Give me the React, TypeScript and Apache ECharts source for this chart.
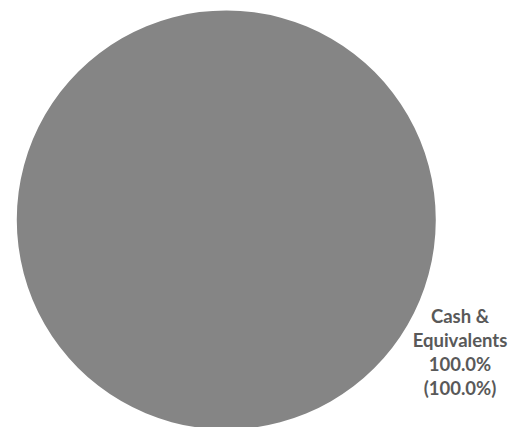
import React, { useEffect, useRef } from "react";
import * as echarts from "echarts";

const categories = ["Cash & Equivalents"];
const values = [100.0];
const benchmarkValues = [100.0];
const colors = ["#858585"];

export default function App() {
  const ref = useRef<HTMLDivElement>(null);
  useEffect(() => {
    if (!ref.current) return;
    const chart = echarts.init(ref.current, undefined, { renderer: "svg" });
    const total = values.reduce((a, b) => a + b, 0);
    chart.setOption({
      animation: false,
      backgroundColor: "#ffffff",
      series: [
        {
          type: "pie",
          center: [226.5, 219.5],
          radius: 209.5,
          startAngle: 150,
          clockwise: true,
          silent: true,
          itemStyle: { borderWidth: 0 },
          labelLine: { show: false },
          label: {
            show: true,
            position: "outside",
            overflow: "none",
            fontFamily: "Lato",
            fontWeight: "bold",
            fontSize: 18.5,
            lineHeight: 24,
            color: "#595959",
            align: "center",
            formatter: (p: any) => {
              const i = p.dataIndex;
              const pct = ((values[i] / total) * 100).toFixed(1);
              return `Cash &\nEquivalents\n${pct}%\n(${benchmarkValues[i].toFixed(1)}%)`;
            },
          },
          labelLayout: {
            x: 460,
            y: 352,
            align: "center",
            verticalAlign: "middle",
          },
          data: categories.map((c, i) => ({
            name: c,
            value: values[i],
            itemStyle: { color: colors[i] },
          })),
        },
      ],
    });
    return () => chart.dispose();
  }, []);
  return (
    <div
      ref={ref}
      style={{ position: "fixed", left: 0, top: 0, width: 510, height: 427 }}
    />
  );
}
